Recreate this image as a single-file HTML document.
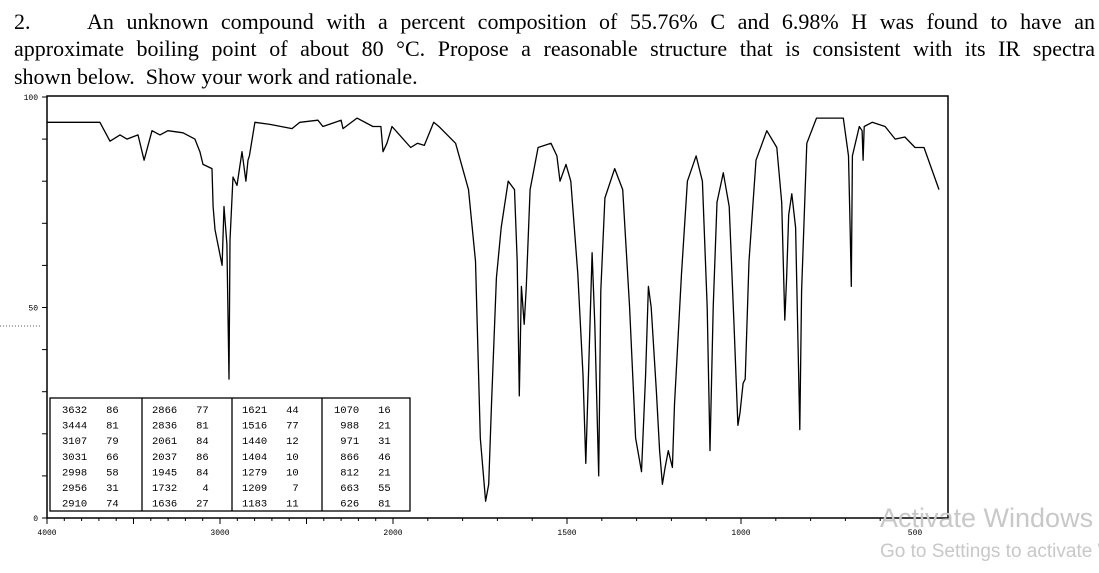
<!DOCTYPE html>
<html><head><meta charset="utf-8">
<style>
body{margin:0;width:1099px;height:573px;background:#fff;overflow:hidden;position:relative;font-family:"Liberation Serif",serif;}
.ln{position:absolute;font-size:22px;line-height:22px;color:#000;white-space:nowrap;}
.j{text-align:justify;text-align-last:justify;white-space:normal;}
svg{position:absolute;left:0;top:0;}
.wmbox{position:absolute;left:878px;top:500px;width:221px;height:73px;overflow:hidden;}
.wm{position:absolute;left:2px;font-family:"Liberation Sans",sans-serif;color:#c8c8c8;white-space:nowrap;}
.tt{white-space:pre;}
</style></head><body>
<div class="ln" style="top:11px;left:14px">2.</div>
<div class="ln j" style="top:11px;left:87px;width:1008px">An unknown compound with a percent composition of 55.76% C and 6.98% H was found to have an</div>
<div class="ln j" style="top:38px;left:14px;width:1081px">approximate boiling point of about 80 °C. Propose a reasonable structure that is consistent with its IR spectra</div>
<div class="ln" style="top:66px;left:14px">shown below.&nbsp; Show your work and rationale.</div>
<svg id="chart" width="1099" height="573"></svg>
<div class="wmbox">
<div class="wm" style="top:3px;font-size:27px">Activate Windows</div>
<div class="wm" style="top:41px;font-size:19px">Go to Settings to activate Windows.</div>
</div>
<script>
const wavenumbers=[4000,3694,3636,3578,3538,3474,3439,3393,3347,3301,3214,3145,3116,3098,3046,3040,3029,2988,2977,2960,2948,2942,2925,2902,2873,2850,2838,2830,2798,2711,2584,2538,2434,2405,2300,2289,2208,2116,2070,2058,2035,2006,1949,1930,1910,1883,1868,1820,1783,1763,1749,1734,1725,1717,1703,1689,1669,1651,1643,1637,1631,1623,1617,1606,1583,1546,1529,1520,1503,1489,1469,1454,1446,1434,1428,1420,1409,1403,1391,1363,1340,1320,1303,1286,1274,1266,1258,1243,1234,1226,1218,1209,1197,1191,1171,1154,1129,1111,1097,1089,1080,1069,1051,1034,1020,1009,1003,994,988,977,957,926,897,883,874,869,863,854,843,831,826,811,783,706,691,686,683,680,660,652,649,646,623,586,557,529,500,474,457,431];
const transmittance=[94,94,89.5,91,90,91,85,92,91,92,91.5,90,87,84,83,74,68.5,60,74,65,33,66,81,79,87,80,85,86,94,93.5,92.5,94,94.5,93,94.5,92.5,95,93,93,87,89,93,88,89,88.5,94,93,89,78,61,19,4,8,27,57,69,80,78,61,29,55,46,55,78,88,89,86,80,84,80,58,34,13,46,63,46,10,54,76,83,78,50,19,11,34,55,50,30,16,8,12,16,12,27,58,80,86,80,50,16,50,75,82,74,46,22,25,32,33,61,85,92,88,75,47,57,72,77,69,21,54,89,95,95,86,67,55,86,93,92,85,93,94,93,90,90.5,88,88,84,78];
const tableCols=[["3632   86","3444   81","3107   79","3031   66","2998   58","2956   31","2910   74"],["2866   77","2836   81","2061   84","2037   86","1945   84","1732    4","1636   27"],["1621   44","1516   77","1440   12","1404   10","1279   10","1209    7","1183   11"],["1070   16"," 988   21"," 971   31"," 866   46"," 812   21"," 663   55"," 626   81"]];
const xTickLabels=[4000,3000,2000,1500,1000,500];
const yTickLabels=[100,50,0];

const NS="http://www.w3.org/2000/svg";
const svg=document.getElementById("chart");
const L=47,R=948,T0=518,T100=97;
function xs(w){return w>=2000? L+(4000-w)*0.173 : 393+(2000-w)*0.348;}
function ys(t){return T0-(t/100)*(T0-T100);}
function mk(tag,attrs,parent){const e=document.createElementNS(NS,tag);for(const k in attrs)e.setAttribute(k,attrs[k]);(parent||svg).appendChild(e);return e;}

const frame=mk("rect",{x:L,y:T100-1,width:R-L,height:T0-T100+1,fill:"none",stroke:"#000","stroke-width":1.5});


const dot=mk("line",{x1:0,y1:326,x2:40,y2:326,stroke:"#555","stroke-dasharray":"1,2"});



for(let t=0;t<=100;t+=10){
  const tk=mk("line",{x1:L-5,y1:ys(t),x2:L,y2:ys(t),stroke:"#000"});
  
  
}
yTickLabels.forEach(v=>{
  const tx=mk("text",{x:L-9,y:ys(v)+3,"text-anchor":"end","font-size":"8","font-family":"Liberation Mono, monospace"});
  tx.textContent=String(v);
  
  
});
for(let w=4000;w>=430;w-=100){
  const big=(w%500===0);
  const tk=mk("line",{x1:xs(w),y1:T0,x2:xs(w),y2:T0+(big?6:3),stroke:"#000"});
  
  
}
xTickLabels.forEach(v=>{
  const tx=mk("text",{x:xs(v),y:T0+17,"text-anchor":"middle","font-size":"8","font-family":"Liberation Mono, monospace"});
  tx.textContent=v;
  
  
});
let d="";
wavenumbers.forEach((w,i)=>{d+=(i?"L":"M")+xs(w).toFixed(1)+","+ys(transmittance[i]).toFixed(1);});
const line=mk("path",{d:d,fill:"none",stroke:"#000","stroke-width":1.3,"stroke-linejoin":"round"});


const tb=mk("rect",{x:50,y:398,width:360,height:113,fill:"#fff",stroke:"#000","stroke-width":1.3});


[142,232,322].forEach(x=>{
  const dv=mk("line",{x1:x,y1:398,x2:x,y2:511,stroke:"#000","stroke-width":1.3});
  
  
});
const colX=[62,152,242,334];
tableCols.forEach((col,c)=>{
  col.forEach((s,r)=>{
    const tx=mk("text",{x:colX[c],y:413+r*15.6,"font-size":"10.5","font-family":"Liberation Mono, monospace","class":"tt"});
    tx.textContent=s;
    
    
  });
});
</script>
</body></html>
